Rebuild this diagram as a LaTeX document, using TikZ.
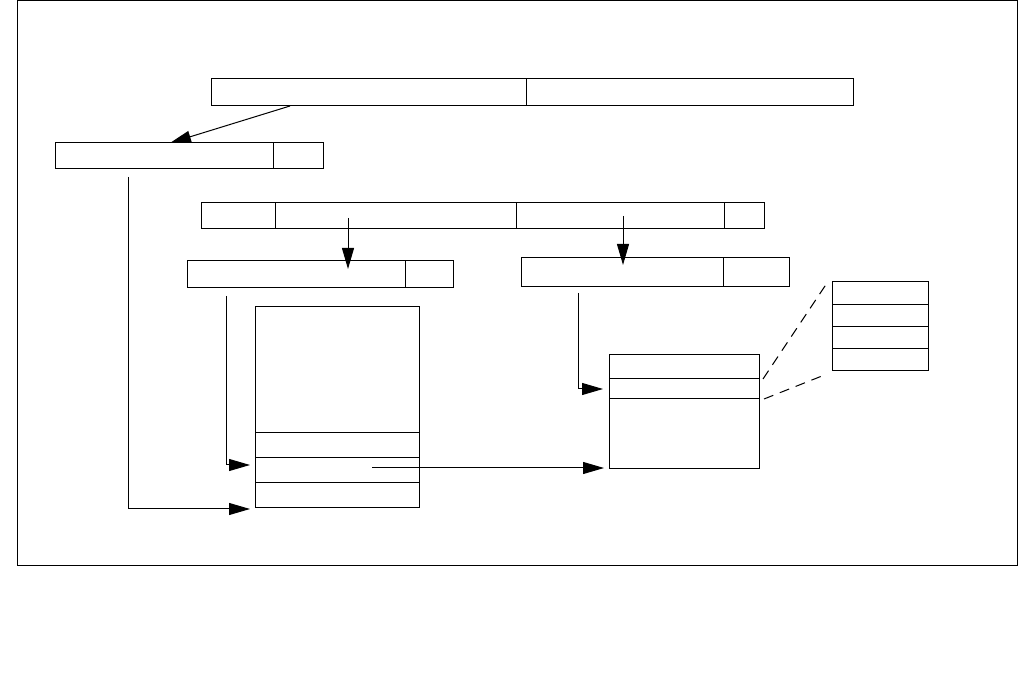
\documentclass[tikz,border=0pt]{standalone}
\usetikzlibrary{arrows.meta}
\tikzset{
  cell/.style={draw, rectangle, inner sep=0pt, outer sep=0pt, anchor=north west, line width=1pt},
  arr/.style={line width=1pt, -{Triangle[length=21pt,width=12pt]}},
  plain/.style={line width=1pt},
  dashline/.style={line width=1pt, dash pattern=on 10pt off 7pt}
}
\newcommand{\cellat}[6]{\node[cell, minimum width=#4pt, minimum height=#5pt] (#1) at (#2,#3) {};}
\begin{document}
\begin{tikzpicture}[x=1pt,y=-1pt]
\useasboundingbox (0,0) rectangle (1026,684);
\draw[plain] (17,0.5) rectangle (1017,565);
% top box
\cellat{ta}{211}{79}{315}{27}{}
\cellat{tb}{526}{79}{327}{27}{}
% box 2
\cellat{ba}{55}{143}{218}{26}{}
\cellat{bb}{273}{143}{50}{26}{}
% box 3
\cellat{ca}{201}{203}{74}{26}{}
\cellat{cb}{275}{203}{241}{26}{}
\cellat{cc}{516}{203}{208}{26}{}
\cellat{cd}{724}{203}{40}{26}{}
% box 4
\cellat{da}{187}{261}{218}{27}{}
\cellat{db}{405}{261}{48}{27}{}
% box 5
\cellat{ea}{521}{258}{202}{29}{}
\cellat{eb}{723}{258}{66}{29}{}
% box 6
\cellat{fa}{255}{307}{164}{126}{}
\cellat{fb}{255}{433}{164}{25}{}
\cellat{fc}{255}{458}{164}{25}{}
\cellat{fd}{255}{483}{164}{25}{}
% box 7
\cellat{ga}{609}{355}{150}{24}{}
\cellat{gb}{609}{379}{150}{20}{}
\cellat{gc}{609}{399}{150}{70}{}
% box 8
\cellat{ha}{832}{282}{96}{23}{}
\cellat{hb}{832}{305}{96}{22}{}
\cellat{hc}{832}{327}{96}{22}{}
\cellat{hd}{832}{349}{96}{22}{}
% connector coordinates
\coordinate (p1) at (290,106);
\coordinate (q1) at (170,143);
\coordinate (p2) at (128,177);
\coordinate (k2) at (128,509);
\coordinate (q2) at (250,509);
\coordinate (p3) at (348,218);
\coordinate (q3) at (348,269);
\coordinate (p4) at (623,216);
\coordinate (q4) at (623,265);
\coordinate (p5) at (226,296);
\coordinate (k5) at (226,465);
\coordinate (q5) at (250,465);
\coordinate (p6) at (372,468);
\coordinate (q6) at (604,468);
\coordinate (p7) at (578,293);
\coordinate (k7) at (578,389);
\coordinate (q7) at (603,389);
\coordinate (d1s) at (763,379);
\coordinate (d1e) at (827,283);
\coordinate (d2s) at (764,399);
\coordinate (d2e) at (827,374);
% connectors
\draw[arr] (p1) -- (q1);
\draw[arr] (p2) -- (k2) -- (q2);
\draw[arr] (p3) -- (q3);
\draw[arr] (p4) -- (q4);
\draw[arr] (p5) -- (k5) -- (q5);
\draw[arr] (p6) -- (q6);
\draw[arr] (p7) -- (k7) -- (q7);
\draw[dashline] (d1s) -- (d1e);
\draw[dashline] (d2s) -- (d2e);
\end{tikzpicture}
\end{document}
